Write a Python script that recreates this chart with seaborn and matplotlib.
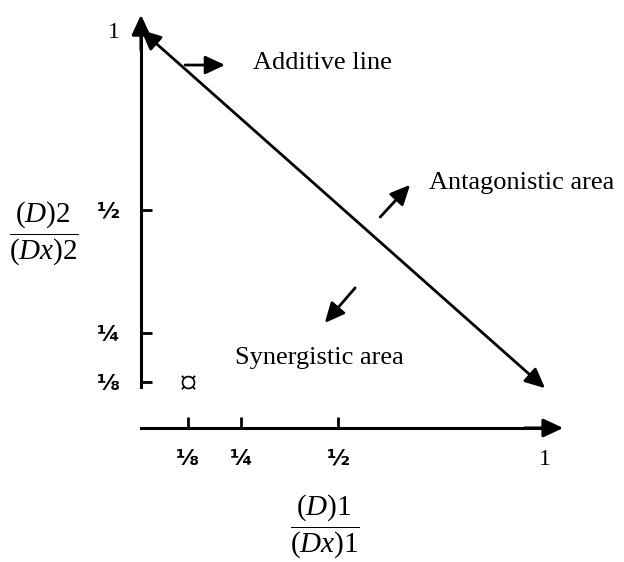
import matplotlib
matplotlib.use('Agg')
import matplotlib.pyplot as plt
import seaborn as sns
import pandas as pd

# values (positions in units of the "1" tick)
x_tick_pos = [0.116, 0.248, 0.488, 1.0]
y_tick_pos = [0.116, 0.239, 0.548, 1.0]
tick_labels = ['⅛', '¼', '½', '1']

# additive (isobole) line, from (0, 1) down to (1, 0.1)
additive_x = [0.0, 1.0]
additive_y = [1.0, 0.1]

# the combination point at (⅛, ⅛)
point = pd.DataFrame({'x': [x_tick_pos[0]], 'y': [y_tick_pos[0]]})

sns.set_style('white')
plt.rcParams['mathtext.fontset'] = 'custom'
plt.rcParams['mathtext.rm'] = 'Liberation Serif'
plt.rcParams['mathtext.it'] = 'Liberation Serif:italic'
plt.rcParams['text.color'] = 'black'
plt.rcParams['axes.labelcolor'] = 'black'
plt.rcParams['xtick.color'] = 'black'
plt.rcParams['ytick.color'] = 'black'

fig = plt.figure(figsize=(6.24, 5.62), dpi=100)
ax = fig.add_axes([0, 0, 1, 1])
ax.set_xlim(-0.349, 1.1955)
ax.set_ylim(-0.3367, 1.0754)

# axes as spines through the origin
for side in ['top', 'right']:
    ax.spines[side].set_visible(False)
ax.spines['left'].set_position(('data', 0))
ax.spines['bottom'].set_position(('data', 0))
ax.spines['left'].set_bounds(0.103, 1.0)
ax.spines['bottom'].set_bounds(0.0, 1.0)
for side in ['left', 'bottom']:
    ax.spines[side].set_linewidth(2.2)
    ax.spines[side].set_color('black')

head = '-|>,head_length=0.6,head_width=0.28'
arrow_kw = dict(arrowstyle=head, mutation_scale=20, lw=2.0, color='black',
                shrinkA=0, shrinkB=0)
ax.annotate('', xy=(0, 1.038), xytext=(0, 0.95),
            arrowprops=dict(arrow_kw, lw=2.2))
ax.annotate('', xy=(1.045, 0), xytext=(0.95, 0),
            arrowprops=dict(arrow_kw, lw=2.2))

ax.set_xticks(x_tick_pos, tick_labels)
ax.set_yticks(y_tick_pos, tick_labels)
ax.tick_params(axis='both', direction='in', length=8, width=2, color='black',
               bottom=True, left=True, labelcolor='black')
ax.tick_params(axis='x', pad=15)
ax.tick_params(axis='y', pad=15)
for labels in [ax.get_xticklabels(), ax.get_yticklabels()]:
    for lab in labels[:3]:
        lab.set_fontfamily('DejaVu Sans')
        lab.set_fontweight('bold')
        lab.set_fontsize(16)
    labels[3].set_fontfamily('Liberation Serif')
    labels[3].set_fontsize(17)
ax.xaxis.get_major_ticks()[3].tick1line.set_visible(False)
ax.yaxis.get_major_ticks()[3].tick1line.set_visible(False)

# additive line with heads at both ends
ax.annotate('', xy=(additive_x[1], additive_y[1]),
            xytext=(additive_x[0], additive_y[0]),
            arrowprops=dict(arrow_kw, arrowstyle='<|-|>,head_length=0.6,head_width=0.28'))

# pointer arrows
ax.annotate('', xy=(0.208, 0.912), xytext=(0.109, 0.912), arrowprops=arrow_kw)
ax.annotate('', xy=(0.666, 0.611), xytext=(0.592, 0.530), arrowprops=arrow_kw)
ax.annotate('', xy=(0.455, 0.264), xytext=(0.530, 0.352), arrowprops=arrow_kw)

serif = dict(fontfamily='Liberation Serif', fontsize=19, va='center', ha='left',
             color='black')
ax.text(0.277, 0.917, 'Additive line', **serif)
ax.text(0.713, 0.616, 'Antagonistic area', **serif)
ax.text(0.233, 0.176, 'Synergistic area', **serif)

sns.scatterplot(data=point, x='x', y='y', marker='$¤$', s=110, color='black',
                linewidth=0, ax=ax)

ax.set_xlabel(r'$\dfrac{(D)1}{(Dx)1}$', fontsize=21, va='center', ha='center')
ax.set_ylabel(r'$\dfrac{(D)2}{(Dx)2}$', fontsize=21, rotation=0,
              va='center', ha='center')
ax.xaxis.set_label_coords(0.521, 0.064)
ax.yaxis.set_label_coords(0.0705, 0.585)

fig.savefig('out.png', dpi=100)
